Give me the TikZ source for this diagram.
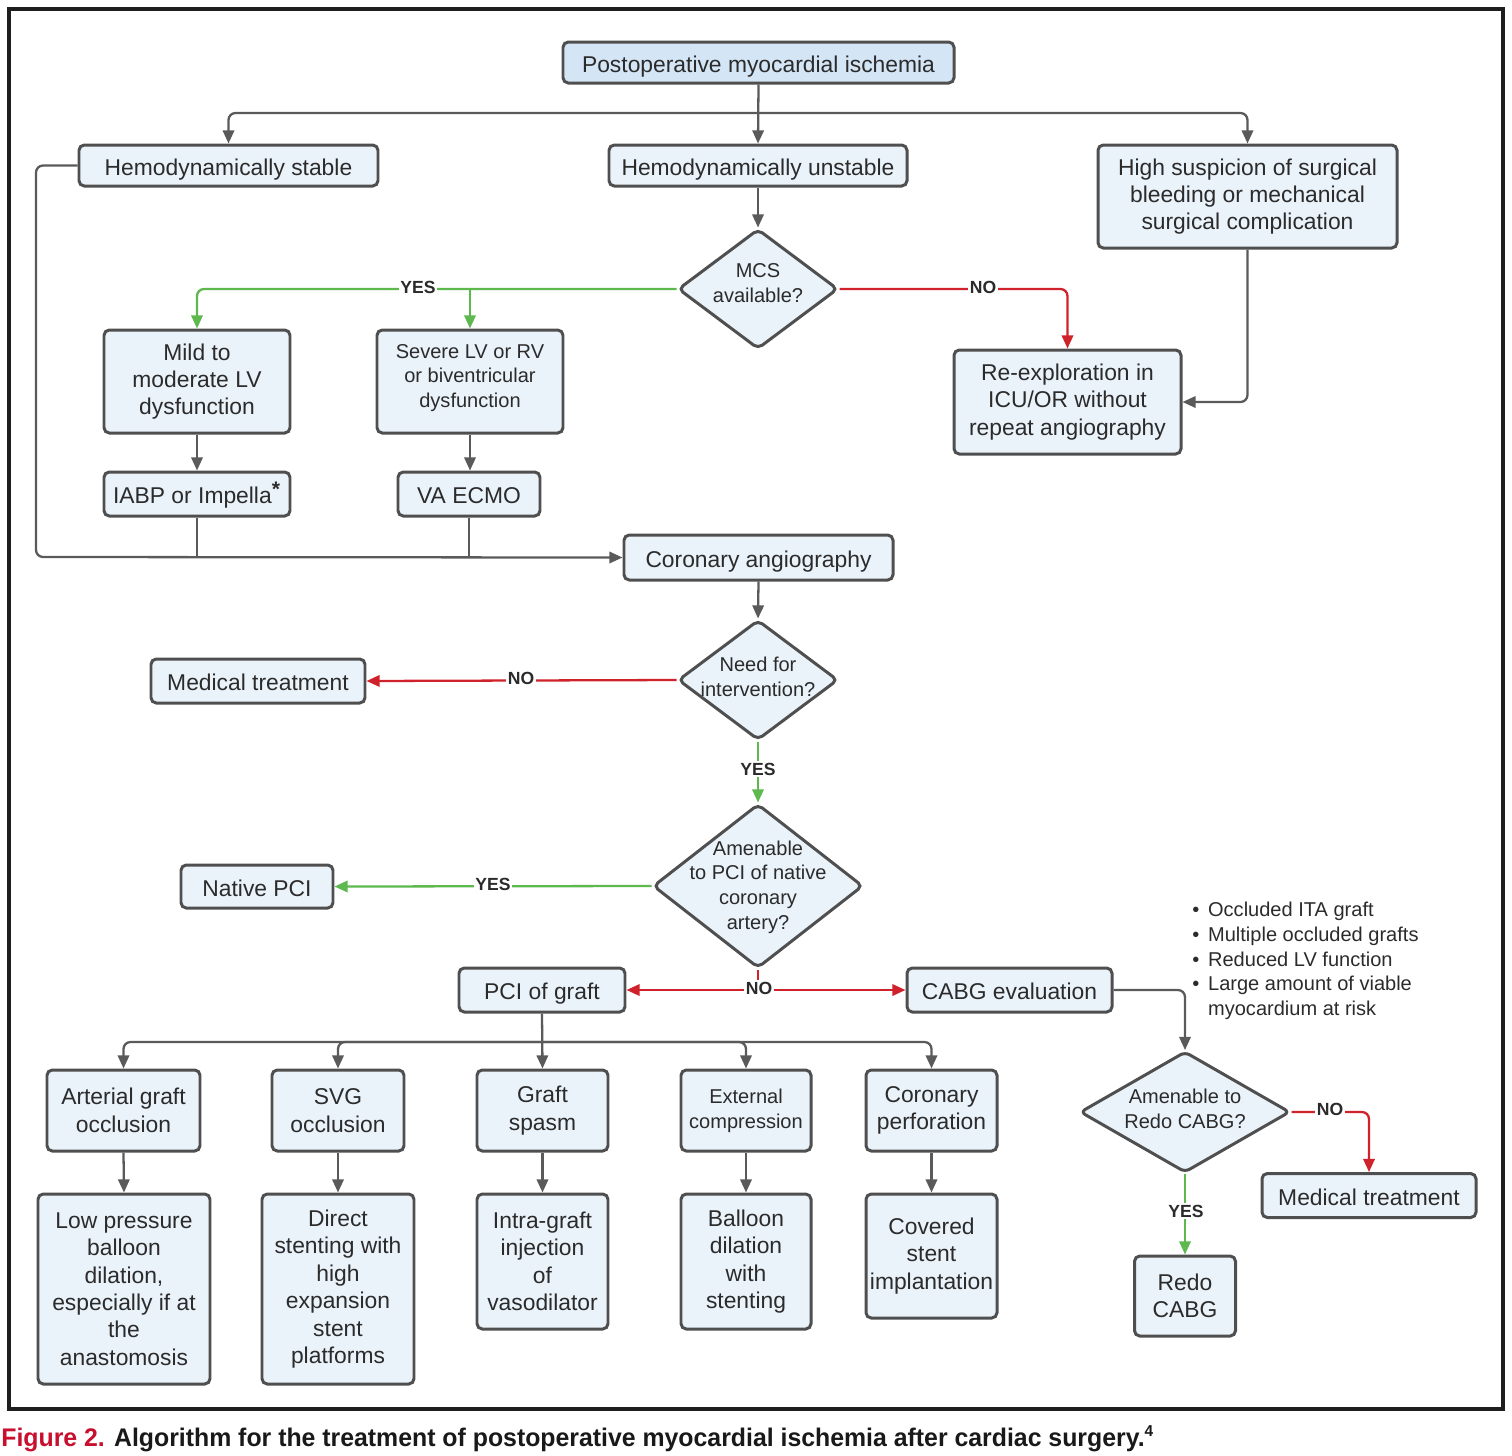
\documentclass[tikz,border=0pt]{standalone}
\usepackage{fontspec}
\setmainfont{Liberation Sans}
\usetikzlibrary{shapes.geometric,arrows.meta,calc}
\definecolor{bfill}{HTML}{EAF2FA}
\definecolor{tfill}{HTML}{D4E5F6}
\definecolor{bord}{HTML}{4F4F4F}
\definecolor{conn}{HTML}{5A5A5A}
\definecolor{gline}{HTML}{5DB84E}
\definecolor{rline}{HTML}{D0222A}
\definecolor{capred}{HTML}{C8102E}
\definecolor{txt}{HTML}{2B2B2B}
\newcommand\fA{\fontsize{13}{15.6}\selectfont}
\newcommand\fB{\fontsize{11.4}{14.1}\selectfont}
\newcommand\fL{\fontsize{10}{12}\selectfont\bfseries}
\newcommand\bul{•\hspace{5pt}}
\begin{document}
\begin{tikzpicture}[x=0.02cm,y=-0.02cm,
 box/.style={draw=bord, fill=bfill, line width=1.7pt, rounded corners=3pt, align=center, inner sep=0pt, font=\fA, text=txt},
 one/.style={text height=11pt, text depth=0pt},
 sz/.style 2 args={minimum width=#1*0.02cm, minimum height=#2*0.02cm},
 dia/.style={draw=bord, fill=bfill, line width=1.7pt, diamond, inner sep=0pt, rounded corners=3pt},
 dtxt/.style={align=center, font=\fB, text=txt, inner sep=0pt},
 lbl/.style={font=\fL, text=txt, fill=white, inner sep=0.8pt},
 tip/.style={-{Triangle[length=7.5pt,width=6.5pt]}},
 ln/.style={draw=conn, line width=1.3pt, rounded corners=4pt},
 arr/.style={ln, tip},
 gln/.style={draw=gline, line width=1.3pt, rounded corners=4pt},
 garr/.style={gln, tip},
 rln/.style={draw=rline, line width=1.3pt, rounded corners=4pt},
 rarr/.style={rln, tip},
]
\useasboundingbox (0,0) rectangle (1512,1455);
\draw[line width=2.3pt, draw=black!88] (9,9) rectangle (1503,1409);

% nodes
\node[box, one, sz={391}{41}, fill=tfill] (top) at (758.5,62.5) {Postoperative myocardial ischemia};
\node[box, one, sz={299}{41}] (hs) at (228.5,165.5) {Hemodynamically stable};
\node[box, one, sz={298}{41}] (hu) at (758,165.5) {Hemodynamically unstable};
\node[box, sz={299}{103}] (hsusp) at (1247.5,196.5) {High suspicion of surgical\\bleeding or mechanical\\surgical complication};
\node[dia, sz={160}{120}] (mcs) at (758,289) {};
\node[dtxt] (mcst) at (758,283) {MCS\\available?};
\node[box, sz={186}{103}] (mild) at (197,381.5) {Mild to\\moderate LV\\dysfunction};
\node[box, sz={186}{103}] (sev) at (470,381.5) {};
\node[dtxt] (sevt) at (470,378) {Severe LV or RV\\or biventricular\\dysfunction};
\node[box, sz={227}{104}] (reexp) at (1067.5,402) {Re-exploration in\\ICU/OR without\\repeat angiography};
\node[box, one, sz={186}{44}] (iabp) at (197,494) {IABP or Impella\textsuperscript{\large\bfseries *}};
\node[box, one, sz={142}{44}] (ecmo) at (469,494) {VA ECMO};
\node[box, one, sz={269}{45}] (cang) at (758.5,557.5) {Coronary angiography};
\node[dia, sz={160}{120}] (need) at (758,680) {};
\node[dtxt] (needt) at (758,677) {Need for\\intervention?};
\node[box, one, sz={214}{44}] (medl) at (258,681) {Medical treatment};
\node[dia, sz={210}{164}] (amen) at (758,886) {};
\node[dtxt] (ament) at (758,887) {Amenable\\to PCI of native\\coronary\\artery?};
\node[box, one, sz={152}{43}] (native) at (257,886.5) {Native PCI};
\node[box, one, sz={166}{44}] (pcig) at (542,990) {PCI of graft};
\node[box, one, sz={205}{44}] (cabge) at (1009.5,990) {CABG evaluation};
\node[dtxt, align=left, anchor=west] (bul) at (1192,961) {\bul Occluded ITA graft\\\bul Multiple occluded grafts\\\bul Reduced LV function\\\bul Large amount of viable\\\phantom{\bul}myocardium at risk};

\node[box, sz={153}{81}] (ag) at (123.5,1110.5) {Arterial graft\\occlusion};
\node[box, sz={132}{81}] (svg) at (338,1110.5) {SVG\\occlusion};
\node[box, sz={131}{81}] (gs) at (542.5,1110.5) {Graft\\spasm};
\node[box, sz={130}{81}, font=\fB] (ec) at (746,1110.5) {External\\compression};
\node[box, sz={131}{81}] (cp) at (931.5,1110.5) {Coronary\\perforation};
\node[box, sz={172}{190}] (lp) at (124,1289) {Low pressure\\balloon\\dilation,\\especially if at\\the\\anastomosis};
\node[box, sz={152}{190}] (ds) at (338,1289) {Direct\\stenting with\\high\\expansion\\stent\\platforms};
\node[box, sz={131}{135}] (ig) at (542.5,1261.5) {Intra-graft\\injection\\of\\vasodilator};
\node[box, sz={130}{135}] (bd) at (746,1261.5) {Balloon\\dilation\\with\\stenting};
\node[box, sz={131}{124}] (cs) at (931.5,1256) {Covered\\stent\\implantation};

\node[dia, sz={210}{121}] (redo) at (1185,1112) {};
\node[dtxt] (redot) at (1185,1109) {Amenable to\\Redo CABG?};
\node[box, one, sz={214}{44}] (medr) at (1369,1195.5) {Medical treatment};
\node[box, sz={101}{80}] (redoc) at (1185,1296) {Redo\\CABG};

% coordinates
\coordinate (j1) at (758,113);
\coordinate (lc) at (36,557);
\coordinate (jn) at (758,990);
\coordinate (jp) at (542,1042);

% connectors
\draw[arr] (top.south) -- (hu.north);
\draw[arr] (j1) -| (hs.north);
\draw[arr] (j1) -| (hsusp.north);
\draw[arr] (hs.west) -| (lc) -- (cang.west);
\draw[ln] (iabp.south) -- (iabp.south |- cang.west);
\draw[ln] (ecmo.south) -- (ecmo.south |- cang.west);
\draw[arr] (hu.south) -- (mcs.north);
\draw[garr] (mcs.west) -| (mild.north);
\draw[garr] (sev.north |- mcs.west) -- (sev.north);
\draw[rarr] (mcs.east) -| (reexp.north);
\draw[arr] (hsusp.south) |- (reexp.east);
\draw[arr] (mild.south) -- (iabp.north);
\draw[arr] (sev.south) -- (sev.south |- ecmo.north);
\draw[arr] (cang.south) -- (need.north);
\draw[rarr] (need.west) -- (medl.east);
\draw[garr] (need.south) -- (amen.north);
\draw[garr] (amen.west) -- (native.east);
\draw[rln] (amen.south) -- (jn);
\draw[rarr] (jn) -- (pcig.east);
\draw[rarr] (jn) -- (cabge.west);
\draw[arr] (cabge.east) -| (redo.north);
\draw[arr] (pcig.south) -- (gs.north);
\draw[arr] (jp) -| (ag.north);
\draw[arr] (jp) -| (svg.north);
\draw[arr] (jp) -| (ec.north);
\draw[arr] (jp) -| (cp.north);
\draw[arr] (ag.south) -- (lp.north);
\draw[arr] (svg.south) -- (ds.north);
\draw[arr] (gs.south) -- (ig.north);
\draw[arr] (ec.south) -- (bd.north);
\draw[arr] (cp.south) -- (cs.north);
\draw[rarr] (redo.east) -| (medr.north);
\draw[garr] (redo.south) -- (redoc.north);

% labels
\node[lbl] (l1) at (418,287) {YES};
\node[lbl] (l2) at (983,287) {NO};
\node[lbl] (l3) at (521,678) {NO};
\node[lbl] (l4) at (758,769) {YES};
\node[lbl] (l5) at (493,884) {YES};
\node[lbl] (l6) at (759,988) {NO};
\node[lbl] (l7) at (1330,1109) {NO};
\node[lbl] (l8) at (1186,1211) {YES};

% caption
\node[anchor=base west, inner sep=0pt, font=\fontsize{14.5}{17}\selectfont\bfseries] (cap) at (1,1446)
 {\scalebox{0.975}[1]{\textcolor{capred}{Figure 2.} \textcolor{black!90}{Algorithm for the treatment of postoperative myocardial ischemia after cardiac surgery.\textsuperscript{\fontsize{9}{10}\selectfont 4}}}};
\end{tikzpicture}
\end{document}
